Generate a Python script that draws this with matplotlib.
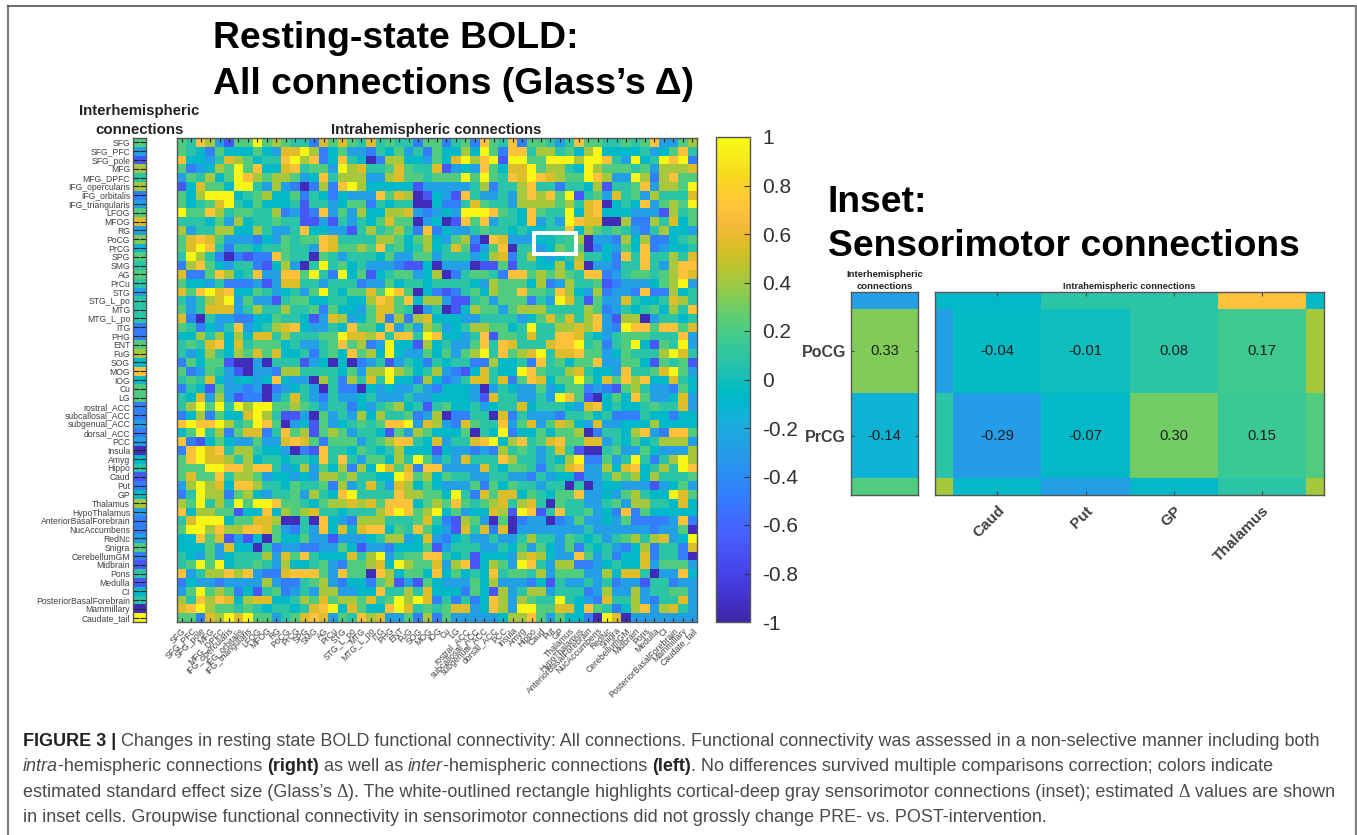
import numpy as np
import matplotlib
matplotlib.use("Agg")
import matplotlib.pyplot as plt
from matplotlib.colors import LinearSegmentedColormap
from matplotlib.patches import Rectangle

plt.rcParams['font.family'] = ['Liberation Sans', 'DejaVu Sans']

REGIONS = ["SFG","SFG_PFC","SFG_pole","MFG","MFG_DPFC","IFG_opercularis","IFG_orbitalis","IFG_triangularis",
           "LFOG","MFOG","RG","PoCG","PrCG","SPG","SMG","AG","PrCu","STG","STG_L_po","MTG","MTG_L_po","ITG",
           "PHG","ENT","FuG","SOG","MOG","IOG","Cu","LG","rostral_ACC","subcallosal_ACC","subgenual_ACC",
           "dorsal_ACC","PCC","Insula","Amyg","Hippo","Caud","Put","GP","Thalamus","HypoThalamus",
           "AnteriorBasalForebrain","NucAccumbens","RedNc","Snigra","CerebellumGM","Midbrain","Pons","Medulla",
           "CI","PosteriorBasalForebrain","Mammillary","Caudate_tail"]

# Colour bands read off each cell of the picture, and the effect size each band stands for
BAND_VALUE = {'0':-0.95,'1':-0.68,'2':-0.47,'3':-0.28,'4':-0.07,'5':0.08,'6':0.22,'7':0.42,'8':0.56,'9':0.70,'A':0.97}

INTER_BANDS = "6 3 1 7 5 7 2 3 6 8 3 7 3 6 5 6 5 3 5 5 5 2 2 6 7 4 9 4 6 6 2 2 3 2 3 0 4 5 1 2 4 7 3 2 2 3 6 2 1 5 1 4 5 0 A"

INTRA_LEFT = [
"6 5 9 7 3 1 6 6 A 6 7 6 5 5 2 8 6 8 6 5 8 5 6 5 5 2 6 6 2",
"6 5 4 2 6 4 4 4 6 4 3 8 8 A 7 2 4 6 3 3 2 5 4 6 3 5 2 6 4",
"9 4 4 3 5 8 7 6 4 5 5 9 A 7 9 2 4 9 5 4 0 2 7 7 4 4 3 6 4",
"6 2 3 4 7 6 A 6 9 4 4 8 9 5 6 6 3 A 7 8 5 5 6 8 6 5 5 8 1",
"3 6 5 7 4 6 A 9 7 6 7 7 6 3 4 9 5 7 7 7 3 3 7 8 6 6 5 6 6",
"1 4 8 6 6 4 A A 5 3 7 3 2 0 2 7 2 9 A 7 4 4 4 4 4 1 3 3 3",
"6 4 7 A A A 4 5 6 7 4 4 6 2 5 4 2 4 3 3 3 9 6 8 7 0 1 4 3",
"6 4 5 6 8 A 5 4 6 4 4 4 5 1 5 5 3 4 6 6 2 5 4 5 5 0 0 4 2",
"A 6 6 9 7 5 6 6 5 5 7 2 3 1 2 9 3 6 3 7 4 4 7 7 8 3 2 3 4",
"5 5 5 4 6 3 7 4 5 5 6 5 5 1 1 3 1 5 3 5 4 6 8 6 6 0 3 4 0",
"7 3 5 5 7 7 4 4 7 5 3 3 5 9 4 4 3 3 1 5 7 5 6 7 5 2 9 2 4",
"6 8 9 8 6 3 3 3 2 4 3 6 5 6 6 9 8 5 5 5 5 7 7 6 4 6 7 4 3",
"6 8 A 9 5 2 5 5 4 5 5 6 5 5 3 9 8 6 6 7 6 9 5 6 4 5 7 4 5",
"5 A 7 5 2 0 2 1 2 2 9 6 5 5 0 6 5 3 5 5 5 4 6 3 3 6 6 3 5",
"2 7 9 6 4 3 5 5 2 1 4 7 3 0 5 A 5 6 4 5 3 3 3 2 1 1 4 0 3",
"8 2 2 6 9 7 4 5 9 3 3 9 9 6 A 5 2 A 4 6 1 4 5 6 6 3 4 7 0",
"6 4 4 3 5 2 2 2 3 1 3 8 8 5 5 3 5 5 5 2 3 3 6 4 5 5 4 5 5",
"8 6 9 A 8 9 4 4 6 5 3 4 5 3 6 A 5 4 6 6 8 6 A 9 6 0 4 2 1",
"5 3 5 7 8 A 3 6 3 3 1 5 6 6 4 4 5 5 4 4 7 9 8 6 9 4 7 7 3",
"6 3 5 8 8 8 3 5 7 5 5 7 5 5 6 2 6 4 4 3 6 8 8 6 5 0 3 5 0",
"8 2 0 5 3 3 2 2 4 4 6 5 5 4 1 3 8 7 3 4 6 8 2 7 2 7 8 4 4",
"6 5 2 4 3 5 9 3 4 5 7 8 9 4 3 3 5 4 9 6 6 4 9 3 6 3 7 6 3",
"4 4 7 5 7 4 7 4 8 8 5 7 5 5 5 6 6 A 8 8 7 9 5 9 9 5 A 9 4",
"5 6 5 8 9 4 8 5 6 6 6 4 5 3 3 5 6 9 6 7 2 3 A 4 4 1 7 4 5",
"5 3 4 7 5 4 7 6 8 6 8 4 4 5 2 5 6 4 9 6 7 4 A 4 3 3 6 4 6",
"2 6 4 6 6 1 0 0 3 0 5 5 5 1 3 4 0 4 0 2 3 5 1 3 5 4 2 5 4",
"6 2 3 6 5 3 1 0 3 3 2 7 7 5 5 5 5 4 6 3 7 7 A 7 6 4 5 7 3",
"5 6 5 8 4 3 4 4 3 4 9 4 3 3 0 7 5 2 7 5 8 5 A 4 4 2 7 4 2",
"2 5 4 1 6 3 3 2 3 0 2 3 4 5 3 0 5 2 2 0 4 3 4 3 3 5 3 2 4",
"5 4 8 3 7 3 1 2 2 0 3 5 8 5 3 2 5 3 3 4 5 3 3 3 5 3 3 4 4",
"5 7 A 6 A 5 A 7 A A 6 6 7 6 5 3 5 5 2 4 3 5 6 7 4 5 1 5 6",
"2 4 7 2 6 4 4 8 A 7 5 1 1 3 0 6 3 5 3 7 4 7 5 5 6 2 3 7 0",
"9 A 9 9 A 7 5 6 A 9 6 0 3 4 1 6 3 4 5 6 5 6 9 9 A 3 8 7 3",
"4 6 A 5 7 2 6 8 8 2 5 9 6 7 1 6 7 6 3 5 5 4 1 6 3 7 6 4 4",
"9 2 1 4 6 4 3 3 6 3 3 8 9 8 6 2 6 6 6 3 5 6 7 9 9 5 4 8 3",
"2 9 A 8 9 5 7 7 5 4 4 3 0 2 1 9 5 5 4 6 5 4 5 7 4 4 4 1 4",
"6 9 A 8 8 7 5 7 4 5 5 4 5 5 4 9 5 9 5 3 6 6 4 7 5 A 6 3 5",
"6 6 6 A A 9 9 7 9 9 5 3 4 7 3 6 4 7 2 7 4 A 8 6 8 2 9 9 3",
"6 8 6 6 9 5 7 7 6 3 4 4 3 4 3 7 7 6 7 5 5 4 4 A 9 6 7 4 6",
"3 7 A 7 8 4 9 9 7 5 5 4 6 5 5 6 2 7 3 5 8 5 3 8 7 4 6 4 3",
"2 5 A 7 7 2 6 7 4 3 5 5 6 3 7 5 4 9 A 5 5 5 5 9 7 7 6 6 4",
"7 6 A 5 7 5 A 6 A A 9 6 6 5 4 6 7 7 8 7 8 6 9 9 9 4 6 7 6",
"9 4 7 7 6 6 1 4 4 9 4 7 6 7 8 5 5 4 5 5 5 7 9 A 9 6 7 A 4",
"5 8 A A A 4 6 6 8 8 7 0 0 5 0 9 4 3 2 7 7 7 5 5 5 6 8 5 2",
"6 A A 7 9 7 7 9 9 8 6 3 2 5 3 9 4 8 4 8 9 9 4 6 5 9 6 4 3",
"4 4 9 6 8 1 3 1 4 0 6 4 4 6 3 3 1 3 3 3 4 5 7 7 3 4 8 3 2",
"4 4 4 6 3 8 4 4 0 5 2 3 3 2 2 3 3 6 4 1 3 3 2 4 4 4 6 1 3",
"5 4 3 6 3 4 5 5 5 7 3 8 6 9 5 4 4 4 8 5 7 A 3 5 6 6 9 9 5",
"5 6 A 6 A 4 5 5 6 5 3 7 4 4 5 6 3 2 6 6 7 8 4 A 7 6 6 8 3",
"9 3 5 7 7 9 7 9 3 2 2 8 9 9 9 6 3 9 6 6 0 9 7 4 6 6 4 9 4",
"2 4 3 3 2 3 3 3 3 7 3 2 2 5 6 7 3 2 4 4 2 6 7 1 3 1 6 4 3",
"3 6 A 6 7 6 2 4 1 5 6 2 3 5 3 7 7 3 3 4 4 9 5 5 7 5 8 4 4",
"7 5 9 7 9 8 4 7 8 8 4 4 5 7 6 8 6 7 7 6 8 5 6 A 7 A 8 2 5",
"8 9 A 7 6 6 5 6 5 4 5 5 4 5 8 9 A 4 8 6 4 4 9 A 8 5 6 5 6",
"6 6 2 8 7 A 8 A 6 6 3 5 6 8 9 8 3 6 5 9 7 8 3 3 6 2 7 2 6",
]

INTRA_RIGHT = [
"5 6 2 9 6 5 9 2 6 6 5 3 5 9 6 6 5 5 6 5 6 9 3 3 6 7",
"4 7 4 A 6 2 9 9 5 7 7 5 6 4 7 A 4 4 4 4 5 3 4 6 9 5",
"8 A 7 9 A 1 A A 6 6 A A A 7 A A 9 5 3 A 4 5 A 9 A 2",
"3 4 3 9 6 4 8 8 A 6 7 7 5 4 A 7 6 6 6 5 6 3 7 7 7 8",
"6 A 6 A 6 5 9 8 A 9 8 7 6 6 A 9 7 3 3 A 7 2 7 9 6 6",
"3 3 5 7 2 5 5 7 9 5 5 2 5 5 4 7 1 5 5 6 9 3 7 7 6 A",
"1 9 5 3 3 5 3 7 9 7 9 6 A 1 5 6 3 8 5 6 3 7 5 5 5 8",
"2 5 8 6 5 5 3 7 7 7 7 6 7 5 8 9 0 4 5 4 9 3 6 7 6 A",
"3 A A A 9 6 5 4 9 6 5 5 A 4 8 9 4 4 4 3 3 3 1 7 5 6",
"1 9 6 9 3 5 5 4 9 3 5 3 A 9 8 8 0 0 7 2 2 7 5 8 4 6",
"3 3 5 6 5 5 4 5 4 4 5 5 9 4 7 6 5 6 5 3 2 5 7 4 4 3",
"6 7 2 0 9 8 3 3 3 4 4 5 6 7 0 3 3 2 7 4 7 2 2 4 5 6",
"8 6 1 3 6 9 0 5 5 3 4 6 6 6 0 2 4 3 6 4 9 2 3 4 4 5",
"5 5 3 4 7 8 2 5 7 4 3 4 5 7 5 5 4 2 9 5 9 5 5 7 5 8",
"3 3 0 1 1 6 1 5 5 4 4 7 4 8 0 3 3 2 5 5 9 5 3 7 9 9",
"2 5 6 6 5 2 9 9 6 7 6 7 6 5 9 9 2 3 5 6 6 5 6 7 9 8",
"5 5 4 3 7 6 6 6 4 7 2 3 7 5 5 6 1 2 3 3 3 4 6 7 A 3",
"2 5 6 4 7 6 6 9 6 6 5 9 7 4 3 7 2 3 3 2 9 2 2 7 4 5",
"1 1 5 6 3 6 6 6 2 5 3 A 8 5 1 6 3 3 8 5 4 4 5 8 7 5",
"1 4 7 6 6 3 6 7 7 7 5 5 5 5 7 6 2 3 5 4 5 6 4 7 5 9",
"4 3 3 5 5 5 5 3 4 6 8 6 8 5 7 9 3 1 7 7 0 3 5 5 4 5",
"4 5 7 7 6 6 4 5 A 5 5 7 7 8 7 9 3 2 A 9 9 6 9 9 6 8",
"4 3 5 9 1 6 6 5 8 5 5 9 9 8 5 4 3 5 6 6 6 5 5 5 9 3",
"3 3 6 9 5 9 8 5 5 5 8 9 9 A 5 6 2 5 6 A 4 1 6 5 A 3",
"3 6 7 A 5 9 6 7 8 A 5 8 8 9 6 6 3 4 6 5 5 5 7 A 8 5",
"5 5 2 2 7 4 4 5 2 9 5 6 4 6 6 9 3 3 6 6 4 1 6 5 6 1",
"2 1 4 8 5 4 4 A 9 6 5 5 7 8 5 4 4 3 9 5 5 6 8 A 6 3",
"3 5 8 8 5 8 2 6 9 8 4 6 6 A 6 4 8 6 9 7 9 4 4 8 5 4",
"4 4 3 0 3 5 4 3 3 6 3 4 6 6 2 3 2 1 6 7 5 3 3 2 6 4",
"4 4 3 1 8 5 5 3 3 5 3 A 9 6 1 0 4 6 4 9 6 3 3 4 8 3",
"4 4 5 3 4 5 5 8 4 5 5 5 4 3 8 9 4 5 4 4 5 6 5 5 8 3",
"2 2 5 5 0 8 2 5 3 3 3 2 5 5 6 4 5 2 2 2 5 4 4 2 4 4",
"2 8 6 5 5 9 3 6 8 3 6 8 7 4 3 8 3 3 4 4 4 7 4 4 4 4",
"4 6 0 5 4 A 2 4 4 6 4 6 6 7 0 2 5 5 4 7 9 3 2 9 9 6",
"5 5 8 9 A 4 7 9 5 6 8 9 6 6 8 8 3 5 4 6 4 5 7 7 7 3",
"3 3 2 3 2 7 5 6 5 3 5 8 5 1 0 0 5 6 3 3 6 4 3 3 3 7",
"3 8 5 5 5 9 7 5 5 3 5 4 7 A 2 2 6 3 5 A 5 2 5 7 A 7",
"3 3 3 8 5 4 6 6 5 2 5 6 8 9 3 3 7 4 8 9 4 5 7 5 A 9",
"5 5 3 3 5 5 3 3 2 5 3 4 4 1 3 3 5 7 6 7 4 7 5 5 5 6",
"3 3 6 2 6 4 6 5 5 3 5 5 0 5 0 3 4 4 3 3 3 1 3 4 6 3",
"A 5 2 8 6 8 8 4 6 5 4 6 6 9 3 3 4 3 6 7 5 4 4 A 8 6",
"9 6 5 6 7 8 5 7 8 5 0 6 5 5 3 3 5 6 3 7 7 5 5 4 8 4",
"6 3 4 4 8 7 1 A 9 1 5 9 5 5 6 3 4 2 9 2 6 4 4 4 4 4",
"1 7 6 3 0 6 0 2 3 3 0 2 3 6 3 3 4 3 6 2 2 2 2 3 9 2",
"1 8 5 8 2 8 0 3 3 3 3 3 3 3 5 3 3 3 3 3 3 2 3 3 6 0",
"4 5 3 3 5 3 3 5 7 5 5 3 6 5 4 5 3 5 6 7 5 7 8 3 4 A",
"5 5 5 3 3 5 4 6 3 6 4 3 6 2 5 4 5 3 2 4 7 2 5 5 2 8",
"4 5 1 4 4 4 3 7 8 7 4 3 3 9 6 3 5 2 4 4 8 2 5 5 2 0",
"7 9 1 4 7 6 3 A 9 5 3 7 7 2 2 3 4 5 4 4 8 3 6 6 6 3",
"6 4 5 4 9 5 6 6 5 7 3 6 6 6 3 3 7 4 8 8 5 0 3 3 9 4",
"3 3 6 4 7 3 3 3 2 4 1 5 3 3 5 3 5 2 3 3 1 5 5 2 3 3",
"4 2 6 4 1 7 3 5 7 7 3 5 5 5 2 3 7 3 3 7 3 5 5 6 6 3",
"2 5 2 4 9 7 3 7 6 5 5 A 5 4 3 2 8 5 5 7 3 2 5 5 8 3",
"8 8 3 4 9 7 3 A A 6 6 8 8 4 9 6 5 2 4 7 9 3 7 8 5 3",
"3 3 3 3 3 4 7 7 9 6 3 6 4 4 2 0 A 8 0 3 3 3 3 3 3 3",
]

# Printed values of the inset
INSET_ROWS = ["PoCG", "PrCG"]
INSET_COLS = ["Caud", "Put", "GP", "Thalamus"]
INSET_INTER = [0.33, -0.14]
INSET_INTRA = [[-0.04, -0.01, 0.08, 0.17],
               [-0.29, -0.07, 0.30, 0.15]]

COLORBAR_TICKS = [-1, -0.8, -0.6, -0.4, -0.2, 0, 0.2, 0.4, 0.6, 0.8, 1]

TITLE_LINES = ["Resting-state BOLD:", "All connections (Glass\u2019s \u0394)"]
INSET_TITLE_LINES = ["Inset:", "Sensorimotor connections"]

CAPTION = [
    [("FIGURE 3 |", 'b'), (" Changes in resting state BOLD functional connectivity: All connections. Functional connectivity was assessed in a non-selective manner including both", 'n')],
    [("intra", 'i'), ("-hemispheric connections ", 'n'), ("(right)", 'b'), (" as well as ", 'n'), ("inter", 'i'), ("-hemispheric connections ", 'n'), ("(left)", 'b'), (". No differences survived multiple comparisons correction; colors indicate", 'n')],
    [("estimated standard effect size (Glass\u2019s ", 'n'), ("\u0394", 's'), ("). The white-outlined rectangle highlights cortical-deep gray sensorimotor connections (inset); estimated ", 'n'), ("\u0394", 's'), (" values are shown", 'n')],
    [("in inset cells. Groupwise functional connectivity in sensorimotor connections did not grossly change PRE- vs. POST-intervention.", 'n')],
]

# ---------------------------------------------------------------- build data
rows = [(a + " " + b).split() for a, b in zip(INTRA_LEFT, INTRA_RIGHT)]
for i, r in enumerate(rows):
    if len(r) != 55:
        raise ValueError(f"row {i} has {len(r)} cells")
intra = np.array([[BAND_VALUE[c] for c in r] for r in rows])
inter = np.array([BAND_VALUE[c] for c in INTER_BANDS.split()]).reshape(-1, 1)
first_row = REGIONS.index(INSET_ROWS[0])
first_col = REGIONS.index(INSET_COLS[0])
intra[first_row:first_row + 2, first_col:first_col + 4] = INSET_INTRA
inter[first_row:first_row + 2, 0] = INSET_INTER

# MATLAB parula: (row of the 64-row table, colour)
PARULA_ROWS = [(1,(0.2422,0.1504,0.6603)),(4,(0.2647,0.1978,0.7952)),(7,(0.2783,0.2559,0.8991)),(10,(0.2810,0.3228,0.9579)),
    (13,(0.2699,0.3892,0.9906)),(16,(0.2206,0.4603,0.9973)),(19,(0.1786,0.5289,0.9682)),(22,(0.1540,0.5902,0.9218)),
    (25,(0.1248,0.6459,0.8883)),(27,(0.0952,0.6798,0.8598)),(29,(0.0297,0.7082,0.8163)),(31,(0.0067,0.7312,0.7660)),
    (33,(0.0964,0.7500,0.7120)),(35,(0.1717,0.7670,0.6554)),(37,(0.2161,0.7843,0.5923)),(39,(0.2906,0.7973,0.5188)),
    (41,(0.3909,0.8029,0.4354)),(43,(0.5044,0.7993,0.3480)),(45,(0.6174,0.7876,0.2612)),(47,(0.7242,0.7698,0.1910)),
    (49,(0.8203,0.7498,0.1535)),(51,(0.9035,0.7330,0.1774)),(53,(0.9728,0.7298,0.2394)),(55,(0.9970,0.7659,0.2199)),
    (57,(0.9892,0.8086,0.1815)),(59,(0.9676,0.8545,0.1217)),(61,(0.9598,0.9106,0.1120)),(64,(0.9769,0.9839,0.0805))]
parula = LinearSegmentedColormap.from_list("parula", [((i - 1) / 63, c) for i, c in PARULA_ROWS], N=256)

# ---------------------------------------------------------------- layout
W, H = 1357, 835
fig = plt.figure(figsize=(W / 100, H / 100), dpi=100, facecolor='white')
GREY = '#404040'


def px_axes(x0, y0, x1, y1):
    return fig.add_axes([x0 / W, 1 - y1 / H, (x1 - x0) / W, (y1 - y0) / H])


def style_spines(ax):
    for s in ax.spines.values():
        s.set_color('#555555')
        s.set_linewidth(1.0)


edges = np.arange(len(REGIONS) + 1)
centres = edges[:-1] + 0.5

ov = fig.add_axes([0, 0, 1, 1], zorder=5)
ov.set_xlim(0, W)
ov.set_ylim(H, 0)
ov.axis('off')
ov.patch.set_alpha(0)

# Main intra-hemispheric matrix
ax = px_axes(177, 138, 697, 622)
mesh = ax.pcolormesh(edges, edges, intra, cmap=parula, vmin=-1, vmax=1)
ax.set_xlim(0, len(REGIONS))
ax.set_ylim(len(REGIONS), 0)
ax.set_xticks(centres)
ax.set_xticklabels(REGIONS, rotation=45, ha='right', va='top', rotation_mode='anchor',
                   fontsize=6.2, color=GREY)
ax.set_yticks([])
ax.tick_params(axis='x', direction='in', length=3, width=0.8, top=True, bottom=True, pad=3, color='#222222')
style_spines(ax)
ax.add_patch(Rectangle((first_col - 0.2, first_row - 0.2), 4.4, 2.4, fill=False, ec='white', lw=2.9, zorder=4))

# Inter-hemispheric column
axi = px_axes(133, 138, 146, 622)
axi.pcolormesh([0, 1], edges, inter, cmap=parula, vmin=-1, vmax=1)
axi.set_xlim(0, 1)
axi.set_ylim(len(REGIONS), 0)
axi.set_xticks([])
axi.set_yticks(centres)
axi.set_yticklabels(REGIONS, fontsize=6.2, color=GREY)
axi.tick_params(axis='y', direction='in', length=4.2, width=0.8, left=True, right=True, pad=2, color='#222222')
style_spines(axi)

# Colour bar
cax = px_axes(716, 137, 750, 622)
cb = fig.colorbar(mesh, cax=cax, ticks=COLORBAR_TICKS)
cb.ax.set_yticklabels([f"{t:g}" for t in COLORBAR_TICKS], fontsize=15, color='#303030')
cb.ax.tick_params(direction='in', length=4, width=0.8, right=True, left=False, pad=9, color='#333333')
cb.outline.set_edgecolor('#555555')
cb.outline.set_linewidth(1.0)

# Inset panels
ROW_LIMS = (first_row + 2.2, first_row - 0.2)
COL_LIMS = (first_col - 0.21, first_col + 4.2)
row_ticks = first_row + np.arange(2) + 0.5
col_ticks = first_col + np.arange(4) + 0.5

ins = px_axes(934.6, 291.7, 1324, 495)
ins.pcolormesh(edges, edges, intra, cmap=parula, vmin=-1, vmax=1)
ins.set_xlim(*COL_LIMS)
ins.set_ylim(*ROW_LIMS)
ins.set_yticks([])
ins.set_xticks(col_ticks)
ins.set_xticklabels(INSET_COLS, rotation=45, ha='right', va='top', rotation_mode='anchor',
                    fontsize=11, fontweight='bold', color=GREY)
ins.tick_params(axis='x', direction='in', length=3, width=0.8, top=True, bottom=True, pad=6, color='#444444')
style_spines(ins)
for r in range(2):
    for c in range(4):
        ins.text(col_ticks[c], row_ticks[r], f"{INSET_INTRA[r][c]:.2f}", ha='center', va='center',
                 fontsize=10.6, color='#1c1c1c')

ins2 = px_axes(851.4, 291.7, 918, 495)
ins2.pcolormesh([0, 1], edges, inter, cmap=parula, vmin=-1, vmax=1)
ins2.set_xlim(0, 1)
ins2.set_ylim(*ROW_LIMS)
ins2.set_xticks([])
ins2.set_yticks(row_ticks)
ins2.set_yticklabels(INSET_ROWS, fontsize=11.5, fontweight='bold', color=GREY)
ins2.tick_params(axis='y', direction='in', length=2, width=0.8, left=True, right=True, pad=4, color='#444444')
style_spines(ins2)
for r in range(2):
    ins2.text(0.5, row_ticks[r], f"{INSET_INTER[r]:.2f}", ha='center', va='center', fontsize=10.6, color='#1c1c1c')

# ---------------------------------------------------------------- text
renderer = fig.canvas.get_renderer()

for s, y in zip(TITLE_LINES, (48, 94)):
    ov.text(213, y, s, fontsize=26.9, fontweight='bold', color='black', va='baseline')
for s, y in zip(INSET_TITLE_LINES, (212, 256)):
    ov.text(828, y, s, fontsize=26.8, fontweight='bold', color='black', va='baseline')

BOLD_LABEL = dict(ha='center', va='baseline', fontweight='bold', color='#222222')
ov.text(139.3, 115, "Interhemispheric", fontsize=10.8, **BOLD_LABEL)
ov.text(139.3, 134, "connections", fontsize=10.8, **BOLD_LABEL)
ov.text(436, 134, "Intrahemispheric connections", fontsize=10.75, **BOLD_LABEL)
ov.text(884.7, 277.3, "Interhemispheric", fontsize=6.8, **BOLD_LABEL)
ov.text(884.7, 289.3, "connections", fontsize=6.8, **BOLD_LABEL)
ov.text(1129, 289.3, "Intrahemispheric connections", fontsize=6.7, **BOLD_LABEL)

# Caption, one text per style run
CAP_SIZE = 12.95
STYLES = {'n': dict(color='#4a4a4a'),
          'b': dict(color='#222222', fontweight='bold'),
          'i': dict(color='#4a4a4a', fontstyle='italic'),
          's': dict(color='#4a4a4a', family=['Liberation Serif', 'DejaVu Serif'])}


def run_width(s, kw):
    a = ov.text(0, 0, s + "|", fontsize=CAP_SIZE, **kw)
    b = ov.text(0, 0, "|", fontsize=CAP_SIZE, **kw)
    w = a.get_window_extent(renderer).width - b.get_window_extent(renderer).width
    a.remove()
    b.remove()
    return w


for line, y in zip(CAPTION, (745.7, 771, 796.7, 821.7)):
    x = 22.7
    for s, st in line:
        ov.text(x, y, s, fontsize=CAP_SIZE, va='baseline', ha='left', **STYLES[st])
        x += run_width(s, STYLES[st])

# Page frame
ov.plot([8, 8], [6, H], color='#808080', lw=1.6, clip_on=False)
ov.plot([8, 1356], [6, 6], color='#505050', lw=1.2, clip_on=False)
ov.plot([1356, 1356], [6, H], color='#808080', lw=1.6, clip_on=False)

fig.savefig("out.png", dpi=100, facecolor='white')
